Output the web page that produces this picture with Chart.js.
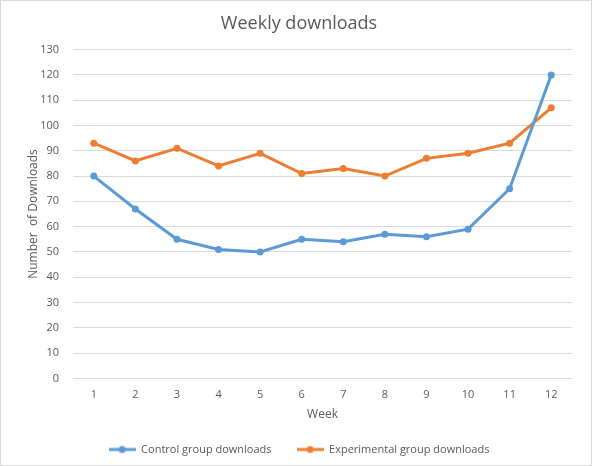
<!DOCTYPE html>
<html>
<head>
<meta charset="utf-8">
<script src="https://cdn.jsdelivr.net/npm/chart.js@4.4.1/dist/chart.umd.min.js"></script>
<style>
  html, body { margin: 0; padding: 0; background: #fff; }
  #wrap { width: 590px; height: 464px; border: 1px solid #d9d9d9; position: relative; }
</style>
</head>
<body>
<div id="wrap"><canvas id="chart" width="590" height="464"></canvas></div>
<script>
// Chart data
const weeks = ['1', '2', '3', '4', '5', '6', '7', '8', '9', '10', '11', '12'];
const controlDownloads = [80, 67, 55, 51, 50, 55, 54, 57, 56, 59, 75, 120];
const experimentalDownloads = [93, 86, 91, 84, 89, 81, 83, 80, 87, 89, 93, 107];
const yMin = 0;
const yMax = 130;
const yStep = 10;

const BLUE = '#5B9BD5';
const ORANGE = '#ED7D31';
const TEXT = '#595959';
const FONT = "'Open Sans', 'Liberation Sans', sans-serif";

// legend marker: short line with a dot, like Excel
function legendMarker(color) {
    const c = document.createElement('canvas');
    c.width = 27;
    c.height = 10;
    const ctx = c.getContext('2d');
    ctx.strokeStyle = color;
    ctx.lineWidth = 3;
    ctx.beginPath();
    ctx.moveTo(0, 5);
    ctx.lineTo(27, 5);
    ctx.stroke();
    ctx.fillStyle = color;
    ctx.beginPath();
    ctx.arc(13.5, 5, 3.5, 0, Math.PI * 2);
    ctx.fill();
    return c;
}

const markers = [legendMarker(BLUE), legendMarker(ORANGE)];

new Chart(document.getElementById('chart'), {
    type: 'line',
    data: {
        labels: weeks,
        datasets: [{
            label: 'Control group downloads',
            data: controlDownloads,
            borderColor: BLUE,
            backgroundColor: BLUE,
            borderWidth: 3,
            pointRadius: 3.5,
            pointBackgroundColor: BLUE,
            pointBorderWidth: 0,
            tension: 0
        }, {
            label: 'Experimental group downloads',
            data: experimentalDownloads,
            borderColor: ORANGE,
            backgroundColor: ORANGE,
            borderWidth: 3,
            pointRadius: 3.5,
            pointBackgroundColor: ORANGE,
            pointBorderWidth: 0,
            tension: 0
        }]
    },
    options: {
        responsive: false,
        animation: false,
        layout: {
            padding: { left: 25, right: 19, top: 10, bottom: 0 }
        },
        plugins: {
            title: {
                display: true,
                text: 'Weekly downloads',
                color: TEXT,
                font: { family: FONT, size: 18, weight: 'normal' },
                padding: { top: 2, bottom: 15 }
            },
            legend: {
                position: 'bottom',
                labels: {
                    color: TEXT,
                    font: { family: FONT, size: 11 },
                    usePointStyle: true,
                    pointStyleWidth: 27,
                    boxHeight: 10,
                    padding: 25,
                    generateLabels(chart) {
                        return chart.data.datasets.map((ds, i) => ({
                            text: ds.label,
                            fontColor: TEXT,
                            pointStyle: markers[i],
                            datasetIndex: i,
                            hidden: false,
                            lineWidth: 0
                        }));
                    }
                }
            },
            tooltip: { enabled: false }
        },
        scales: {
            x: {
                offset: true,
                grid: { display: false, drawTicks: false },
                border: { display: false },
                ticks: {
                    color: TEXT,
                    font: { family: FONT, size: 11 },
                    padding: 10
                },
                title: {
                    display: true,
                    text: 'Week',
                    color: TEXT,
                    font: { family: FONT, size: 12 },
                    padding: { top: -4, bottom: -3 }
                }
            },
            y: {
                min: yMin,
                max: yMax,
                afterFit(scale) {
                    scale.width = 47;
                },
                grid: { color: '#d9d9d9', drawTicks: false, lineWidth: 1 },
                border: { display: false },
                ticks: {
                    stepSize: yStep,
                    color: TEXT,
                    font: { family: FONT, size: 11 },
                    padding: 14
                },
                title: {
                    display: true,
                    text: 'Number  of Downloads',
                    color: TEXT,
                    font: { family: FONT, size: 12 },
                    padding: { top: 0, bottom: 4 }
                }
            }
        }
    }
});
</script>
</body>
</html>
